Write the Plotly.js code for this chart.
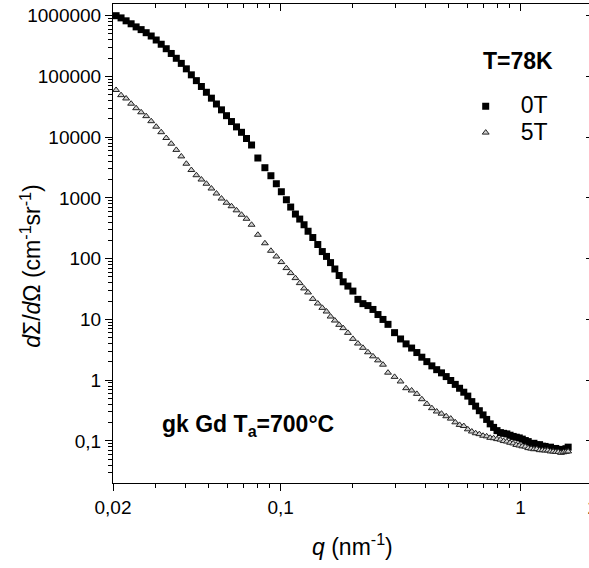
<!DOCTYPE html>
<html><head><meta charset="utf-8">
<script src="https://cdn.plot.ly/plotly-3.0.1.min.js"></script>
<style>html,body{margin:0;padding:0;overflow:hidden;background:#fff}#chart{width:593px;height:568px}</style>
</head><body><div id="chart"></div>
<script>
// scattering vector q (nm^-1), shared by both field values
const q = [
 0.0206,0.02161,0.02268,0.0238,0.02497,0.0262,0.0275,0.02886,0.03028,0.03177,0.03334,0.03499,0.03672,0.03853,
 0.04044,0.04243,0.04453,0.04673,0.04903,0.05145,0.05399,0.05666,0.05946,0.06237,0.06545,0.06868,0.07206,0.07564,
 0.08036,0.08597,0.09108,0.09594,0.10068,0.10566,0.11013,0.11524,0.12011,0.12519,0.13012,0.13615,0.14285,0.14918,
 0.15534,0.16145,0.16827,0.17538,0.18228,0.19072,0.20013,0.21001,0.22036,0.23121,0.24262,0.25458,0.26712,0.2803,
 0.2985,0.3162,0.3334,0.3516,0.3697,0.3879,0.4070,0.4271,0.4473,0.4684,0.4901,0.5119,0.5346,0.5572,0.5802,0.6030,
 0.6267,0.6501,0.6736,0.6981,0.7228,0.7476,0.7725,0.7982,0.8248,0.8506,0.8773,0.9047,0.9321,0.9604,0.9885,1.0175,
 1.0473,1.0770,1.1075,1.1378,1.1689,1.2011,1.2339,1.2664,1.2998,1.3340,1.3679,1.4026,1.4382,1.4747,1.5106,1.5474,1.5805
];
// dSigma/dOmega at 0T
const i0T = [
 1.0e6,9.20e5,8.24e5,7.36e5,6.54e5,5.90e5,5.25e5,4.63e5,3.98e5,3.39e5,2.86e5,2.39e5,1.99e5,1.64e5,
 1.334e5,1.063e5,8.53e4,6.84e4,5.49e4,4.39e4,3.52e4,2.82e4,2.26e4,1.81e4,1.478e4,1.204e4,9520,7440,
 4542,3145,2321,1713,1265,934,708,543,449,362,283,223,171,131,
 109,86.2,67.7,52.9,41.6,35.4,29.3,21.4,18.2,16.9,14.6,12.04,10.0,8.30,
 6.06,4.77,3.96,3.38,2.85,2.39,2.02,1.72,1.49,1.32,1.146,0.989,0.853,0.736,0.634,0.547,
 0.444,0.374,0.3144,0.268,0.226,0.191,0.167,0.1478,0.1370,0.1334,0.1304,0.1241,0.1186,0.1151,0.1120,0.1071,
 0.1015,0.0975,0.0905,0.0915,0.0862,0.0868,0.0820,0.0812,0.0770,0.0789,0.0750,0.0752,0.0720,0.0726,0.0712,0.0745,0.0790
];
// dSigma/dOmega at 5T
const i5T = [
 5.99e4,4.92e4,4.34e4,3.56e4,3.00e4,2.57e4,2.22e4,1.835e4,1.489e4,1.209e4,9700,7815,6177,4828,
 3659,2882,2366,2010,1713,1429,1182,977,833,730,625,529,454,362,
 247.6,179.4,134.9,108.7,87.9,70.0,57.9,47.9,39.6,32.4,27.8,21.8,18.3,15.5,
 13.5,11.16,9.59,8.15,7.19,6.01,4.79,4.01,3.41,2.88,2.47,2.12,1.80,1.33,
 1.134,0.952,0.738,0.677,0.595,0.486,0.407,0.346,0.305,0.281,0.255,0.233,0.2025,0.1835,0.1760,0.1553,
 0.1429,0.1339,0.1294,0.1218,0.1190,0.1125,0.1108,0.1071,0.1050,0.0995,0.0977,0.0934,0.0910,0.0860,0.0840,0.0815,
 0.0805,0.0762,0.0747,0.0730,0.0735,0.0705,0.0703,0.0695,0.0698,0.0672,0.0669,0.0659,0.0660,0.0636,0.0651,0.0661,0.0672
];
const seriesNames = ['0T','5T'];
const legendTitle = 'T=78K';
const sampleLabel = 'gk Gd T<sub>a</sub>=700°C';
const xTickVals = [0.02,0.1,1,2];
const xTickText = ['0,02','0,1','1','2'];
const xMinorVals = [0.03,0.04,0.05,0.06,0.07,0.08,0.09,0.2,0.3,0.4,0.5,0.6,0.7,0.8,0.9];

const FONT = 'Liberation Sans, Arial, Helvetica, sans-serif';
const xRange = [Math.log10(0.02), Math.log10(2.006)];
const yRange = [Math.log10(0.0203), Math.log10(1.558e6)];
const tickFont = {family:FONT, size:19, color:'#000'};

const layout = {
  width:593, height:568,
  margin:{l:113, r:0, t:4, b:85},
  paper_bgcolor:'#fff', plot_bgcolor:'#fff',
  separators:',.',
  font:{family:FONT, color:'#000'},
  showlegend:true,
  xaxis:{type:'log', range:xRange, autorange:false, showgrid:false, zeroline:false,
    tickmode:'array', tickvals:xTickVals, ticktext:xTickText, ticks:'outside', ticklen:7, tickcolor:'#000',
    showline:true, linecolor:'#000', tickfont:tickFont, ticklabeloverflow:'allow',
    minor:{tickmode:'array', tickvals:xMinorVals, ticks:'outside', ticklen:4, tickcolor:'#000', showgrid:false}},
  xaxis2:{type:'log', range:xRange, autorange:false, showgrid:false, zeroline:false, overlaying:'x', side:'top', anchor:'y',
    tickmode:'array', tickvals:xTickVals, ticks:'inside', ticklen:7, tickcolor:'#000', showline:true, linecolor:'#000',
    showticklabels:false,
    minor:{tickmode:'array', tickvals:xMinorVals, ticks:'inside', ticklen:4, tickcolor:'#000', showgrid:false}},
  yaxis:{type:'log', range:yRange, autorange:false, showgrid:false, zeroline:false,
    dtick:1, tickformat:'~f', ticks:'outside', ticklen:7, tickcolor:'#000',
    showline:true, linecolor:'#000', tickfont:tickFont,
    minor:{dtick:'D1', ticks:'outside', ticklen:4, tickcolor:'#000', showgrid:false}},
  yaxis2:{type:'log', range:yRange, autorange:false, showgrid:false, zeroline:false, overlaying:'y', side:'right', anchor:'x',
    dtick:1, ticks:'inside', ticklen:7, tickcolor:'#000', showline:true, linecolor:'#000', showticklabels:false,
    minor:{dtick:'D1', ticks:'inside', ticklen:4, tickcolor:'#000', showgrid:false}},
  legend:{x:(450-113)/479, y:(483-88)/479, xanchor:'left', yanchor:'top', bgcolor:'rgba(0,0,0,0)', borderwidth:0,
    itemwidth:60, tracegroupgap:0, font:{family:FONT, size:18, color:'#000'}},
  annotations:[
    {xref:'paper', yref:'paper', x:(480-113)/479, y:(483-61)/479, xanchor:'left', yanchor:'middle', showarrow:false,
     text:'<b>'+legendTitle+'</b>', font:{family:FONT, size:23, color:'#000'}},
    {xref:'paper', yref:'paper', x:0.499, y:-0.129, xanchor:'center', yanchor:'middle', showarrow:false,
     text:'<i>q</i> (nm<sup>-1</sup>)', font:{family:FONT, size:23, color:'#000'}},
    {xref:'paper', yref:'paper', x:-0.1712, y:0.453, xanchor:'center', yanchor:'middle', showarrow:false, textangle:-90,
     text:'<i>d</i>Σ/<i>d</i>Ω (cm<sup>-1</sup>sr<sup>-1</sup>)', font:{family:FONT, size:23, color:'#000'}},
    {xref:'paper', yref:'paper', x:0.098, y:0.121, xanchor:'left', yanchor:'middle', showarrow:false,
     text:'<b>'+sampleLabel+'</b>', font:{family:FONT, size:23, color:'#000'}}
  ]
};

const traces = [
  {x:q, y:i0T, name:'<span style="font-size:23px">'+seriesNames[0]+'</span>', type:'scatter', mode:'markers',
   marker:{symbol:'square', size:7, color:'#000', line:{width:0}}},
  {x:q, y:i5T, name:'<span style="font-size:23px">'+seriesNames[1]+'</span>', type:'scatter', mode:'markers',
   marker:{symbol:'triangle-up', size:6, color:'#cfcfcf', line:{width:1, color:'#222'}}},
  // invisible carriers so the top and right framing axes (inward ticks) are drawn
  {x:q, y:i0T, xaxis:'x2', yaxis:'y', type:'scatter', mode:'markers', marker:{opacity:0}, showlegend:false, hoverinfo:'skip'},
  {x:q, y:i0T, xaxis:'x', yaxis:'y2', type:'scatter', mode:'markers', marker:{opacity:0}, showlegend:false, hoverinfo:'skip'}
];
Plotly.newPlot('chart', traces, layout, {displayModeBar:false});
</script>
</body></html>
